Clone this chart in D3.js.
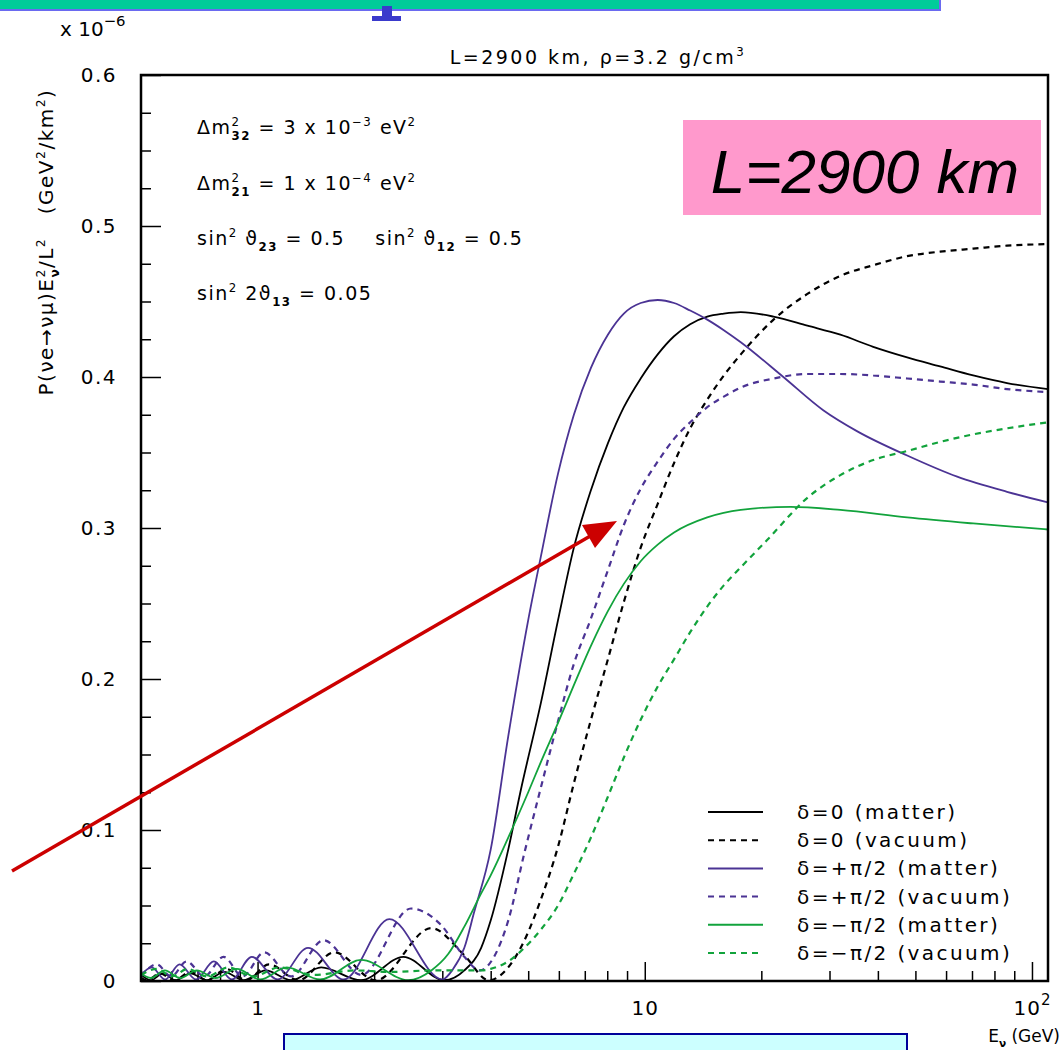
<!DOCTYPE html>
<html>
<head>
<meta charset="utf-8">
<script src="https://cdn.jsdelivr.net/npm/d3@7"></script>
<style>
body { margin: 0; background: #fff; }
svg text { font-family: "DejaVu Sans", sans-serif; fill: #000; white-space: pre; }
</style>
</head>
<body>
<svg id="chart" width="1063" height="1050"></svg>
<script>
// energies (GeV) and P*E^2/L^2 values (x 1e-6)

// delta = 0, matter
const d0MatterE = [0.5,0.53,0.57,0.615,0.67,0.74,0.82,0.92,1.05,1.22,1.46,1.85,2.38,3.03,3.42,3.78,4.0,4.44,4.79,5.39,5.97,6.56,7.26,8.03,8.83,9.76,10.8,11.9,13.1,14.5,16.0,17.7,21.5,26.3,32,38.9,47.6,57.9,70.5,86.2,110]
const d0MatterP = [0.004,0.0005,0.005,0.0005,0.005,0.0005,0.006,0.0005,0.007,0.0005,0.009,0.0005,0.016,0.0005,0.007,0.022,0.040,0.087,0.127,0.184,0.239,0.287,0.325,0.356,0.380,0.399,0.415,0.427,0.435,0.440,0.442,0.443,0.440,0.434,0.428,0.420,0.413,0.407,0.401,0.396,0.392]

// delta = 0, vacuum
const d0VacuumE = [0.5,0.518,0.56,0.61,0.67,0.741,0.83,0.935,1.07,1.275,1.58,2.02,2.81,3.42,3.95,4.44,4.89,5.39,5.97,6.56,7.26,8.03,8.83,9.76,10.8,11.9,13.1,14.5,16.0,17.7,21.5,26.3,32,38.9,47.6,57.9,70.5,86.2,110]
const d0VacuumP = [0.002,0.0005,0.005,0.0005,0.006,0.0005,0.008,0.0005,0.011,0.0005,0.019,0.0005,0.035,0.017,0.0005,0.009,0.027,0.054,0.089,0.131,0.173,0.213,0.251,0.287,0.316,0.343,0.366,0.385,0.401,0.415,0.438,0.455,0.467,0.474,0.480,0.483,0.485,0.487,0.488]

// delta = +pi/2, matter
const p2MatterE = [0.5,0.533,0.577,0.629,0.694,0.771,0.858,0.966,1.126,1.35,1.67,2.19,3.0,3.2,3.42,3.62,4.0,4.44,5.0,5.39,5.97,6.56,7.26,8.03,8.83,9.76,10.8,11.9,13.1,14.5,16.0,17.7,22.8,28.9,35.4,47.6,64.1,86.2,110]
const p2MatterP = [0.004,0.009,0.001,0.011,0.001,0.013,0.001,0.016,0.001,0.022,0.001,0.041,0.001,0.008,0.022,0.045,0.087,0.162,0.239,0.281,0.336,0.375,0.406,0.428,0.442,0.449,0.451,0.449,0.444,0.438,0.431,0.423,0.400,0.378,0.364,0.348,0.334,0.324,0.317]

// delta = +pi/2, vacuum
const p2VacuumE = [0.5,0.549,0.598,0.656,0.728,0.817,0.915,1.04,1.22,1.48,1.855,2.49,2.98,3.42,3.75,4.08,4.44,4.89,5.39,5.97,6.56,7.26,8.03,8.83,9.76,10.8,11.9,13.1,14.5,16.0,17.7,21.5,26.3,32,38.9,47.6,57.9,70.5,86.2,110]
const p2VacuumP = [0.003,0.011,0.003,0.013,0.003,0.016,0.003,0.019,0.003,0.027,0.004,0.048,0.037,0.016,0.007,0.016,0.040,0.085,0.128,0.172,0.210,0.240,0.272,0.302,0.326,0.344,0.359,0.370,0.380,0.387,0.393,0.399,0.402,0.402,0.401,0.399,0.397,0.395,0.392,0.390]

// delta = -pi/2, matter
const m2MatterE = [0.5,0.53,0.576,0.631,0.697,0.779,0.884,1.015,1.19,1.45,1.85,2.45,2.81,3.11,3.42,3.78,4.0,4.44,5.0,5.39,5.97,6.56,7.26,8.03,8.83,9.76,10.8,11.9,14.5,17.7,23.8,32,47.6,70.5,110]
const m2MatterP = [0.005,0.002,0.007,0.002,0.007,0.002,0.008,0.001,0.009,0.001,0.014,0.0005,0.007,0.018,0.036,0.058,0.070,0.095,0.125,0.145,0.171,0.196,0.222,0.245,0.263,0.278,0.289,0.297,0.307,0.312,0.314,0.312,0.307,0.303,0.299]

// delta = -pi/2, vacuum
const m2VacuumE = [0.5,0.55,0.6,0.66,0.74,0.84,0.97,1.14,1.4,1.78,2.2,2.81,3.42,3.78,4.0,4.44,4.89,5.39,5.97,6.56,7.26,8.03,8.83,9.76,10.8,11.9,13.1,14.5,16.0,17.7,20.7,26.3,32,38.9,47.6,57.9,70.5,86.2,110]
const m2VacuumP = [0.004,0.008,0.003,0.008,0.003,0.009,0.003,0.009,0.004,0.007,0.006,0.007,0.007,0.007,0.008,0.013,0.022,0.034,0.050,0.071,0.095,0.122,0.148,0.173,0.195,0.213,0.231,0.248,0.262,0.274,0.292,0.320,0.335,0.345,0.351,0.357,0.362,0.366,0.370]

const legendLabels = ["δ=0 (matter)", "δ=0 (vacuum)", "δ=+π/2 (matter)", "δ=+π/2 (vacuum)", "δ=−π/2 (matter)", "δ=−π/2 (vacuum)"]

const xMajorTicks = [1, 10, 100]
const xMinorTicks = [0.5,0.6,0.7,0.8,0.9,2,3,4,5,6,7,8,9,20,30,40,50,60,70,80,90]
const yMajorTicks = [0, 0.1, 0.2, 0.3, 0.4, 0.5, 0.6]
const yMinorTicks = [0.025,0.05,0.075,0.125,0.15,0.175,0.225,0.25,0.275,0.325,0.35,0.375,0.425,0.45,0.475,0.525,0.55,0.575]

const purple = "#4b3394"
const green = "#12a33c"

const series = [
  {e: d0MatterE, p: d0MatterP, color: "#000", dash: null},
  {e: d0VacuumE, p: d0VacuumP, color: "#000", dash: "6,5"},
  {e: p2MatterE, p: p2MatterP, color: purple, dash: null},
  {e: p2VacuumE, p: p2VacuumP, color: purple, dash: "6,5"},
  {e: m2MatterE, p: m2MatterP, color: green, dash: null},
  {e: m2VacuumE, p: m2VacuumP, color: green, dash: "6,5"}
]

// frame
const plotL = 141, plotR = 1048, plotT = 75, plotB = 981

const svg = d3.select("#chart")

const xScale = d3.scaleLog().domain([0.5, 110]).range([plotL, plotR])
const yScale = d3.scaleLinear().domain([0, 0.6]).range([plotB, plotT])

// text with sub/superscripts: parts = [str, "sup"|"sub"|"", stackOnPrevious]
function richText(sel, parts, size) {
  let level = 0, prev = null
  parts.forEach(([s, kind, stack]) => {
    const lv = kind === "sup" ? -0.42 * size : kind === "sub" ? 0.3 * size : 0
    const t = sel.append("tspan").text(s).attr("dy", lv - level)
    if (kind) t.style("font-size", (size * 0.62) + "px")
    if (kind === "sub") t.style("font-weight", "bold")
    if (stack && prev) t.attr("dx", -prev.node().getComputedTextLength())
    level = lv
    prev = t
  })
}

// decorations from the slide: top bar, bottom box
svg.append("rect").attr("x", -3).attr("y", -3).attr("width", 943).attr("height", 13)
  .attr("fill", "#00cc99").attr("stroke", "#6a6af0").attr("stroke-width", 2)
svg.append("path").attr("d", "M382,6 L392,6 L392,16 L401,16 L401,21 L372,21 L372,16 L382,16 Z")
  .attr("fill", "#3a3acc")
svg.append("rect").attr("x", 284).attr("y", 1034).attr("width", 623).attr("height", 30)
  .attr("fill", "#ccffff").attr("stroke", "#000099").attr("stroke-width", 2)

// axes
svg.append("g").attr("transform", `translate(0,${plotB})`)
  .call(d3.axisBottom(xScale).tickValues(xMinorTicks).tickSize(-10).tickFormat(""))
  .call(g => g.select(".domain").remove())
svg.append("g").attr("transform", `translate(0,${plotB})`)
  .call(d3.axisBottom(xScale).tickValues(xMajorTicks).tickSize(-19).tickPadding(20)
    .tickFormat(d => d === 100 ? "10" : d))
  .call(g => g.select(".domain").remove())
  .call(g => g.selectAll("text").style("font-size", "20px").style("letter-spacing", "1px")
    .style("font-family", "DejaVu Sans"))
  .call(g => g.selectAll(".tick").filter(d => d === 100).select("text")
    .append("tspan").attr("dy", -10).style("font-size", "15px").text("2"))

svg.append("g").attr("transform", `translate(${plotL},0)`)
  .call(d3.axisLeft(yScale).tickValues(yMinorTicks).tickSize(-10).tickFormat(""))
  .call(g => g.select(".domain").remove())
svg.append("g").attr("transform", `translate(${plotL},0)`)
  .call(d3.axisLeft(yScale).tickValues(yMajorTicks).tickSize(-20).tickPadding(24)
    .tickFormat(d => d === 0 ? "0" : d3.format(".1f")(d)))
  .call(g => g.select(".domain").remove())
  .call(g => g.selectAll("text").style("font-size", "20px").style("letter-spacing", "1.5px")
    .style("font-family", "DejaVu Sans"))

svg.selectAll(".tick line").attr("stroke", "#000").attr("stroke-width", 1.5)

// curves
svg.append("clipPath").attr("id", "plotclip").append("rect")
  .attr("x", plotL).attr("y", plotT).attr("width", plotR - plotL).attr("height", plotB - plotT)

const line = d3.line()
  .x(d => xScale(d[0]))
  .y(d => yScale(d[1]))
  .curve(d3.curveMonotoneX)

const curves = svg.append("g").attr("clip-path", "url(#plotclip)")
series.forEach(s => {
  const pts = s.e.map((e, i) => [e, s.p[i]])
  curves.append("path").datum(pts)
    .attr("d", line)
    .attr("fill", "none")
    .attr("stroke", s.color)
    .attr("stroke-width", s.dash ? 2.2 : 1.8)
    .attr("stroke-dasharray", s.dash)
})

// frame box
svg.append("rect").attr("x", plotL).attr("y", plotT).attr("width", plotR - plotL).attr("height", plotB - plotT)
  .attr("fill", "none").attr("stroke", "#000").attr("stroke-width", 2.5)

// title and exponent
svg.append("text").attr("x", 598).attr("y", 64).attr("text-anchor", "middle")
  .style("font-size", "19px").style("letter-spacing", "2.5px")
  .call(t => richText(t, [["L=2900 km, ρ=3.2 g/cm", ""], ["3", "sup"]], 19))
svg.append("text").attr("x", 60).attr("y", 36).style("font-size", "20px")
  .call(t => richText(t, [["x 10", ""], ["−6", "sup"]], 24))

// axis titles
svg.append("text").attr("x", 1060).attr("y", 1042).attr("text-anchor", "end")
  .style("font-size", "17px")
  .call(t => richText(t, [["E", ""], ["ν", "sub"], [" (GeV)", ""]], 17))

svg.append("text").attr("transform", "translate(53,242) rotate(-90)").attr("text-anchor", "middle")
  .style("font-size", "20px").style("letter-spacing", "1.5px")
  .call(t => richText(t, [["P(νe→νμ)E", ""], ["ν", "sub"], ["2", "sup", true], ["/L", ""], ["2", "sup"],
    ["   (GeV", ""], ["2", "sup"], ["/km", ""], ["2", "sup"], [")", ""]], 20))

// oscillation parameters
const params = svg.append("g").style("font-size", "19px").style("letter-spacing", "1.5px")
params.append("text").attr("x", 197).attr("y", 134)
  .call(t => richText(t, [["Δm", ""], ["2", "sup"], ["32", "sub", true], [" = 3 x 10", ""], ["−3", "sup"], [" eV", ""], ["2", "sup"]], 19))
params.append("text").attr("x", 197).attr("y", 190)
  .call(t => richText(t, [["Δm", ""], ["2", "sup"], ["21", "sub", true], [" = 1 x 10", ""], ["−4", "sup"], [" eV", ""], ["2", "sup"]], 19))
params.append("text").attr("x", 197).attr("y", 245)
  .call(t => richText(t, [["sin", ""], ["2", "sup"], [" ϑ", ""], ["23", "sub"], [" = 0.5    sin", ""], ["2", "sup"], [" ϑ", ""], ["12", "sub"], [" = 0.5", ""]], 19))
params.append("text").attr("x", 197).attr("y", 300)
  .call(t => richText(t, [["sin", ""], ["2", "sup"], [" 2ϑ", ""], ["13", "sub"], [" = 0.05", ""]], 19))

// legend
const legend = svg.append("g")
series.forEach((s, i) => {
  const y = 812 + i * 28.2
  legend.append("line").attr("x1", 708).attr("x2", 763).attr("y1", y).attr("y2", y)
    .attr("stroke", s.color).attr("stroke-width", 2).attr("stroke-dasharray", s.dash)
  legend.append("text").attr("x", 797).attr("y", y + 7).style("font-size", "20px")
    .style("letter-spacing", "2.4px").text(legendLabels[i])
})

// pink label box
svg.append("rect").attr("x", 683).attr("y", 120).attr("width", 358).attr("height", 95).attr("fill", "#ff99cc")
svg.append("text").attr("x", 865).attr("y", 193).attr("text-anchor", "middle")
  .style("font-family", "Liberation Sans, Arial, sans-serif").style("font-style", "italic")
  .style("font-size", "62px").text("L=2900 km")

// red arrow
svg.append("line").attr("x1", 12).attr("y1", 871).attr("x2", 592).attr("y2", 535)
  .attr("stroke", "#cc0000").attr("stroke-width", 3.5)
svg.append("path").attr("d", "M617,521 L582,525 L595,548 Z").attr("fill", "#cc0000")
</script>
</body>
</html>
